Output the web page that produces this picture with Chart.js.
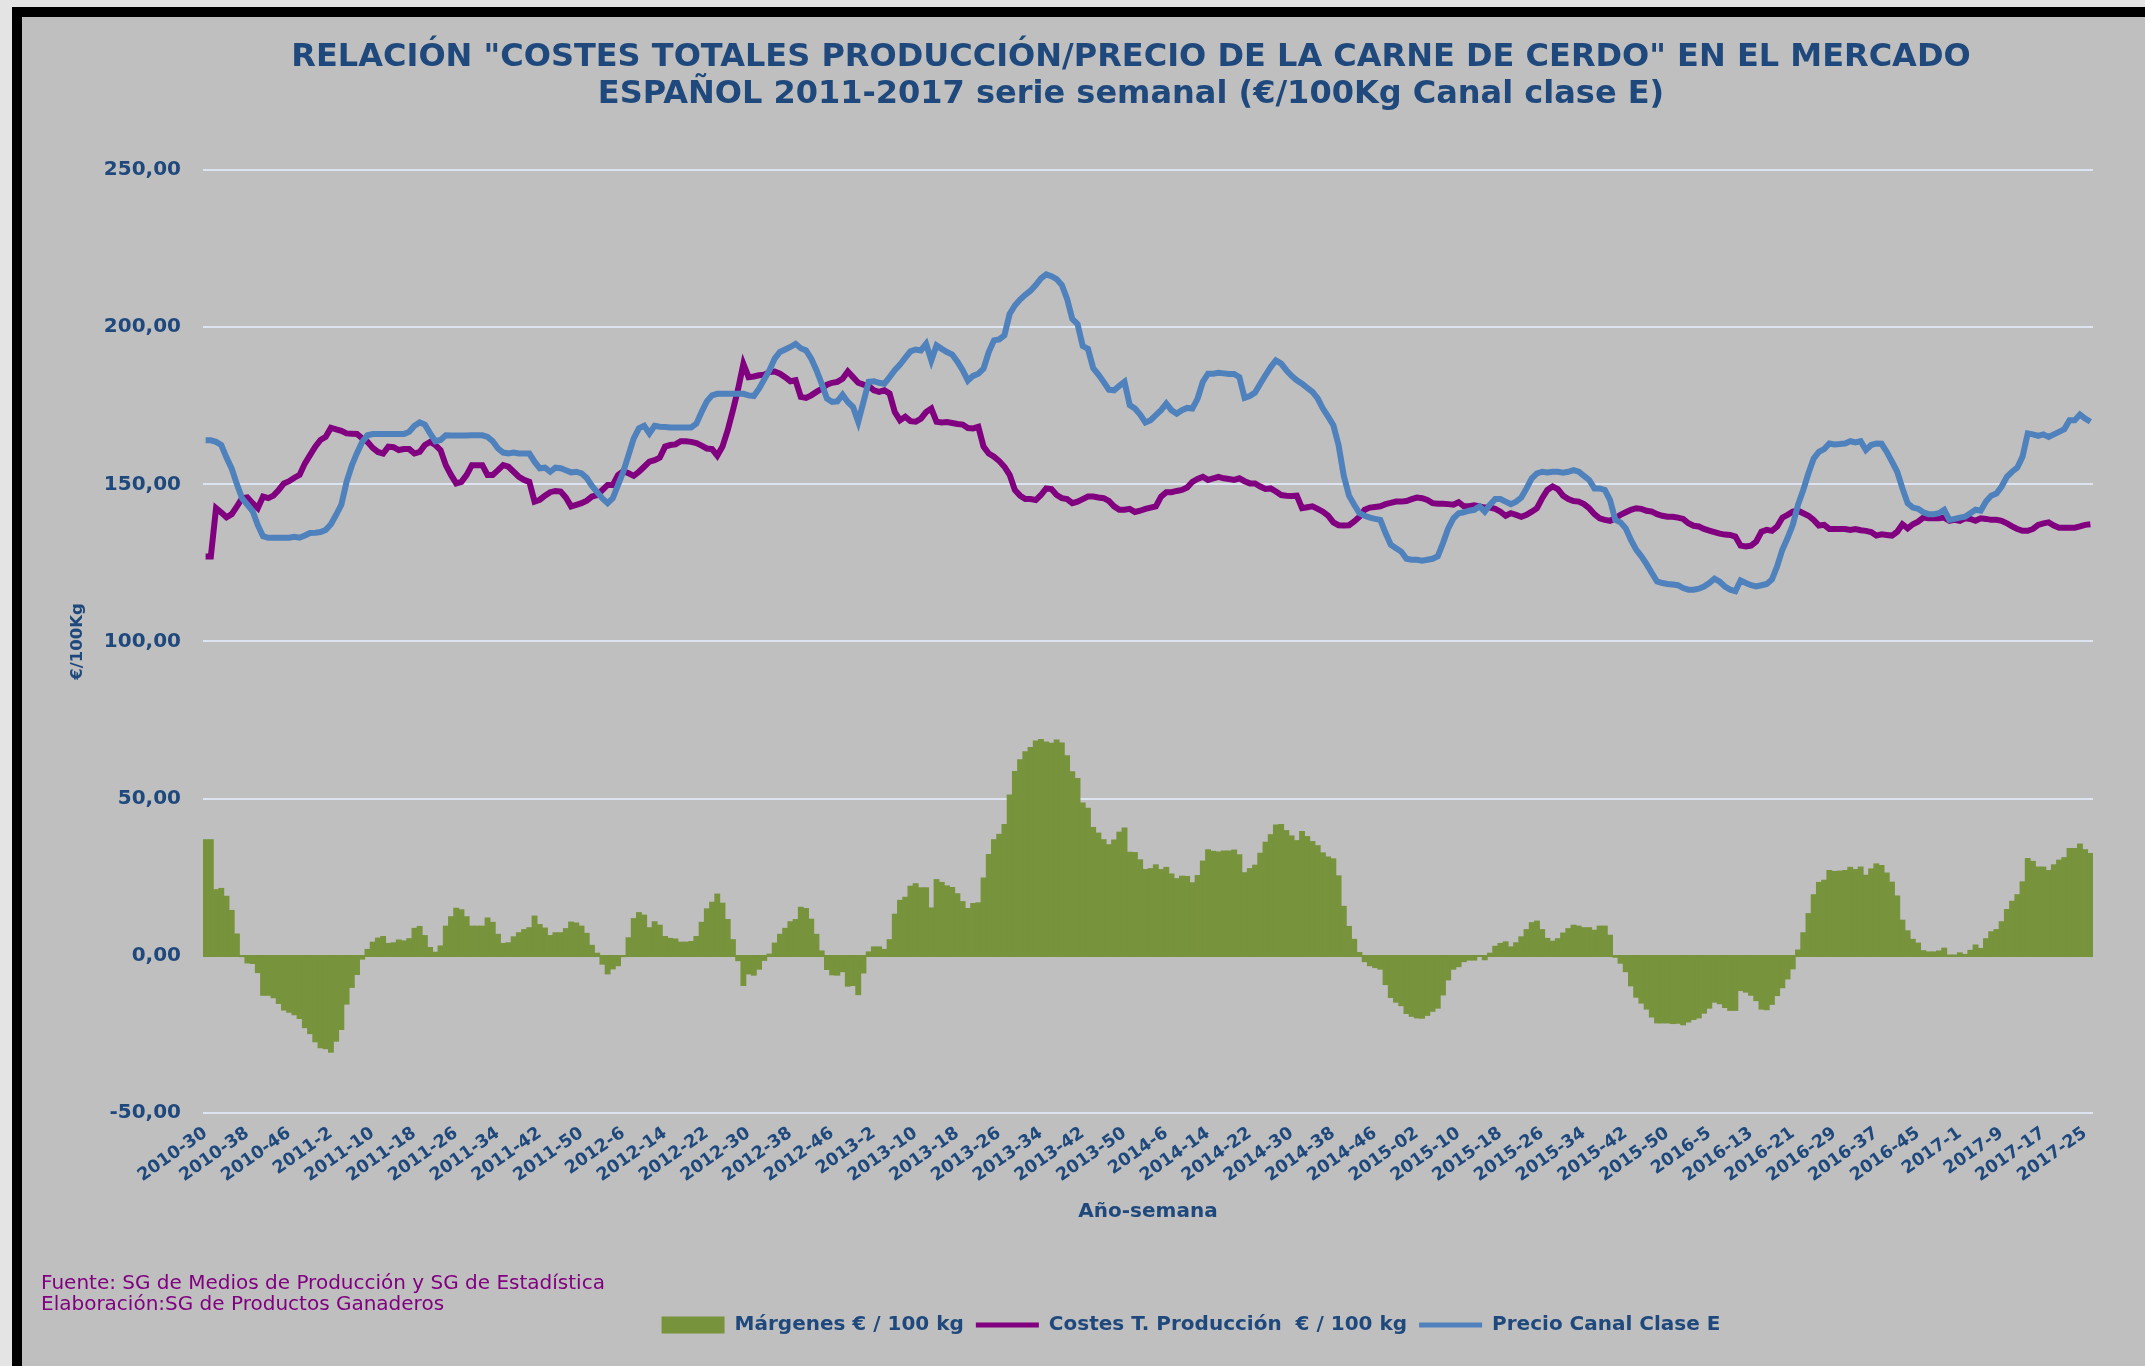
<!DOCTYPE html>
<html lang="es">
<head>
<meta charset="utf-8">
<title>Costes totales producción / precio carne de cerdo</title>
<script src="https://cdn.jsdelivr.net/npm/chart.js@4.4.1/dist/chart.umd.min.js"></script>
<style>
  html, body { margin: 0; padding: 0; }
  body { width: 2145px; height: 1366px; background: #e4e4e4; position: relative; overflow: hidden; font-family: 'DejaVu Sans', sans-serif; }
  #marco { position: absolute; left: 12px; top: 7px; width: 2200px; height: 1400px; background: #bfbfbf; border-left: 10px solid #000; border-top: 10px solid #000; }
  #grafico { position: absolute; left: 0; top: 0; }
  .nota { position: absolute; left: 41px; color: #800080; font-size: 20px; line-height: 22px; white-space: nowrap; }
</style>
</head>
<body>
<div id="marco"></div>
<canvas id="grafico" width="2145" height="1366"></canvas>
<div class="nota" style="top:1271px">Fuente: SG de Medios de Producción y SG de Estadística</div>
<div class="nota" style="top:1292px">Elaboración:SG de Productos Ganaderos</div>
<script>
// serie semanal desde 2010-30
const anios = [2010, 2011, 2012, 2013, 2014, 2015, 2016, 2017];
const semanasPorAnio = [52, 52, 52, 52, 52, 53, 52, 52];

// etiquetas que se ven en el eje (una cada 8 semanas)
const etiquetasEje = [
  '2010-30', '2010-38', '2010-46', '2011-2', '2011-10', '2011-18', '2011-26', '2011-34', '2011-42', '2011-50',
  '2012-6', '2012-14', '2012-22', '2012-30', '2012-38', '2012-46', '2013-2', '2013-10', '2013-18', '2013-26',
  '2013-34', '2013-42', '2013-50', '2014-6', '2014-14', '2014-22', '2014-30', '2014-38', '2014-46', '2015-02',
  '2015-10', '2015-18', '2015-26', '2015-34', '2015-42', '2015-50', '2016-5', '2016-13', '2016-21', '2016-29',
  '2016-37', '2016-45', '2017-1', '2017-9', '2017-17', '2017-25'
];

// Precio Canal Clase E (€/100 kg)
const precio = [
  164, 164, 163.5, 162.5, 158.5, 155, 150, 145.5, 143.5, 141.5,
  137, 133.5, 133, 133, 133, 133, 133, 133.3, 133, 133.7,
  134.5, 134.6, 134.8, 135.5, 137.3, 140.3, 143.5, 150.8, 156, 160,
  163.5, 165.6, 166, 166, 166, 166, 166, 166, 166, 166.7,
  168.6, 169.7, 169, 166.2, 163.7, 164.1, 165.6, 165.5, 165.5, 165.5,
  165.5, 165.6, 165.6, 165.6, 165.1, 163.7, 161.4, 160.1, 159.8, 160.1,
  159.8, 159.8, 159.8, 157.2, 155.1, 155.3, 154, 155.3, 155.1, 154.5,
  153.8, 154, 153.5, 152, 149.5, 147.5, 145.5, 144, 145.6, 149.8,
  154, 159.3, 164.6, 167.8, 168.6, 166.2, 168.6, 168.3, 168.2, 168.1,
  168.1, 168.1, 168.1, 168.1, 169.3, 173, 176.4, 178.3, 178.8, 178.8,
  178.8, 178.8, 178.8, 178.8, 178.3, 178.1, 180.4, 183.4, 186.3, 190,
  192.1, 192.9, 193.7, 194.7, 193.3, 192.6, 190, 186.3, 182, 177.3,
  176.2, 176.4, 178.5, 176.2, 174.6, 169.9, 176.2, 182.6, 182.8, 182.3,
  182, 184.1, 186.3, 188.1, 190.2, 192.3, 192.9, 192.6, 194.7, 189.4,
  194.2, 193.1, 192.1, 191.3, 189, 186.3, 183, 184.5, 185.2, 186.8,
  192.1, 195.8, 196.1, 197.4, 204.2, 206.9, 208.8, 210.3, 211.6, 213.4,
  215.5, 216.8, 216.2, 215.3, 213.4, 209, 202.6, 201, 194, 193.1,
  187, 184.9, 182.6, 180.1, 179.9, 181.3, 182.6, 175.2, 174.1, 172.2,
  169.7, 170.4, 172, 173.6, 175.7, 173.6, 172.5, 173.6, 174.3, 174.1,
  177.3, 182.6, 185.2, 185.2, 185.5, 185.3, 185.1, 185.1, 184.1, 177.5,
  178.1, 179.2, 182, 184.7, 187.3, 189.4, 188.4, 186.3, 184.5, 183.1,
  182, 180.7, 179.4, 177.3, 174.1, 171.5, 168.8, 162.5, 152.7, 146.4,
  143.5, 140.8, 140, 139.4, 139, 138.7, 134.5, 130.8, 129.7, 128.6,
  126.3, 126, 126, 125.7, 126, 126.3, 127.1, 131.3, 136, 139.2,
  140.8, 141.1, 141.6, 141.9, 143, 141.3, 143.5, 145.3, 145.3, 144.5,
  143.7, 144.5, 145.8, 148.7, 151.9, 153.5, 154, 153.8, 154, 154,
  153.7, 154, 154.5, 154, 152.7, 151.4, 148.7, 148.7, 148.2, 145,
  138.7, 137.9, 136, 132.3, 129.2, 127.1, 124.6, 121.8, 119.1, 118.6,
  118.3, 118.1, 117.9, 117, 116.5, 116.5, 116.8, 117.5, 118.6, 120,
  119, 117.5, 116.5, 116, 119.4, 118.6, 117.9, 117.5, 117.9, 118.3,
  119.7, 123.9, 129.2, 132.9, 137.1, 143.5, 148.2, 153.5, 158.2, 160.3,
  161.2, 163, 162.7, 162.8, 163, 163.7, 163.3, 163.7, 160.9, 162.5,
  163, 162.9, 160.3, 157.2, 154, 148.7, 144, 142.6, 142.2, 141.1,
  140.5, 140.5, 140.8, 141.9, 138.7, 139, 139.4, 139.7, 140.8, 141.9,
  141.6, 144.5, 146.4, 147.1, 149.3, 152.4, 154, 155.3, 158.8, 166.2,
  165.9, 165.4, 165.9, 165.1, 165.9, 166.7, 167.5, 170.4, 170.4, 172.2,
  170.9, 169.9
];

// Costes T. Producción (€/100 kg)
const costes = [
  127, 127, 142.4, 141, 139.5, 140.5, 143, 145.6, 145.8, 144,
  142.4, 146.1, 145.6, 146.4, 148.2, 150.3, 151, 152.1, 153, 156.6,
  159.3, 162, 164.1, 165.1, 168, 167.5, 167, 166.2, 166.1, 166,
  164.6, 163.5, 161.6, 160.3, 159.8, 162, 161.8, 160.9, 161.2, 161.2,
  159.8, 160.3, 162.5, 163.5, 162.5, 160.9, 156.1, 153, 150.3, 150.8,
  153, 156.1, 156.1, 156.1, 153, 153, 154.5, 156.1, 155.6, 154,
  152.4, 151.4, 150.8, 144.5, 145.1, 146.4, 147.5, 147.9, 147.7, 145.8,
  143, 143.5, 144, 144.8, 146.1, 146.6, 148.2, 149.8, 149.8, 153,
  154.2, 153.5, 152.7, 154, 155.6, 157.2, 157.7, 158.5, 162, 162.5,
  162.7, 163.7, 163.7, 163.5, 163.1, 162.3, 161.4, 161.2, 159.1, 162,
  167.2, 173.6, 180.4, 188.3, 184.1, 184.3, 184.7, 184.9, 185.7, 185.9,
  185.2, 184.1, 182.8, 183.1, 177.8, 177.5, 178.3, 179.4, 180.4, 181.7,
  182.3, 182.6, 183.6, 185.9, 184.1, 182.3, 181.7, 181.3, 179.9, 179.4,
  179.9, 178.9, 173, 170.4, 171.5, 170.1, 169.9, 170.9, 173, 174.1,
  169.9, 169.7, 169.8, 169.5, 169.2, 169, 167.9, 167.8, 168.3, 162,
  159.8, 158.8, 157.4, 155.6, 153, 148.2, 146.4, 145.3, 145.3, 145,
  146.6, 148.7, 148.5, 146.6, 145.6, 145.3, 144, 144.5, 145.3, 146.1,
  146.1, 145.8, 145.6, 144.7, 143, 141.9, 141.9, 142.2, 141.2, 141.6,
  142.2, 142.6, 143, 146.1, 147.5, 147.5, 147.9, 148.2, 149, 150.8,
  151.7, 152.4, 151.4, 151.9, 152.4, 151.9, 151.7, 151.4, 151.9, 151,
  150.3, 150.3, 149.3, 148.5, 148.7, 147.7, 146.6, 146.4, 146.3, 146.4,
  142.4, 142.7, 143, 142.2, 141.3, 140, 137.9, 137, 136.9, 137,
  138.2, 139.7, 141.9, 142.6, 142.8, 143, 143.7, 144.1, 144.5, 144.5,
  144.7, 145.3, 145.8, 145.6, 145, 144, 143.8, 143.8, 143.7, 143.5,
  144.3, 143, 143, 143.3, 143, 142.6, 142.6, 142.2, 141.3, 140,
  140.8, 140.3, 139.7, 140.3, 141.3, 142.4, 145.6, 148.2, 149.3, 148.5,
  146.4, 145.3, 144.7, 144.5, 143.7, 142.4, 140.5, 139.2, 138.7, 138.4,
  139.2, 140.3, 141.1, 141.9, 142.4, 142.2, 141.6, 141.3, 140.5, 140,
  139.7, 139.7, 139.4, 139, 137.6, 136.8, 136.6, 135.8, 135.3, 134.8,
  134.3, 134, 133.9, 133.4, 130.5, 130.2, 130.5, 131.8, 134.9, 135.5,
  135.2, 136.6, 139.4, 140.3, 141.3, 141.6, 140.8, 140, 138.7, 136.9,
  137.1, 135.8, 135.8, 135.8, 135.8, 135.5, 135.8, 135.4, 135.2, 134.8,
  133.7, 134.1, 133.9, 133.7, 134.9, 137.3, 136, 137.3, 138.1, 139.4,
  139.2, 139.2, 139.2, 139.4, 138.4, 138.7, 138.4, 139.2, 139, 138.4,
  139.2, 139, 138.7, 138.7, 138.4, 137.6, 136.6, 135.8, 135.2, 135.2,
  135.8, 137.1, 137.6, 137.9, 136.9, 136.2, 136.2, 136.2, 136.2, 136.6,
  137.1, 137.3
];

// Márgenes (€/100 kg)
const margenes = [
  37, 37, 21.1, 21.5, 19, 14.5, 7, -0.1, -2.3, -2.5,
  -5.4, -12.6, -12.6, -13.4, -15.2, -17.3, -18, -18.8, -20, -22.9,
  -24.8, -27.4, -29.3, -29.6, -30.7, -27.2, -23.5, -15.4, -10.1, -6,
  -1.1, 2.1, 4.4, 5.7, 6.2, 4, 4.2, 5.1, 4.8, 5.5,
  8.8, 9.4, 6.5, 2.7, 1.2, 3.2, 9.5, 12.5, 15.2, 14.7,
  12.5, 9.5, 9.5, 9.5, 12.1, 10.7, 6.9, 4, 4.2, 6.1,
  7.4, 8.4, 9, 12.7, 10, 8.9, 6.5, 7.4, 7.4, 8.7,
  10.8, 10.5, 9.5, 7.2, 3.4, 0.9, -2.7, -5.8, -4.2, -3.2,
  -0.2, 5.8, 11.9, 13.8, 13, 9, 10.9, 9.8, 6.2, 5.6,
  5.4, 4.4, 4.4, 4.6, 6.2, 10.7, 15, 17.1, 19.7, 16.8,
  11.6, 5.2, -1.6, -9.5, -5.8, -6.2, -4.3, -1.5, 0.6, 4.1,
  6.9, 8.8, 10.9, 11.6, 15.5, 15.1, 11.7, 6.9, 1.6, -4.4,
  -6.1, -6.2, -5.1, -9.7, -9.5, -12.4, -5.5, 1.3, 2.9, 2.9,
  2.1, 5.2, 13.3, 17.7, 18.7, 22.2, 23, 21.7, 21.7, 15.3,
  24.3, 23.4, 22.3, 21.8, 19.8, 17.3, 15.1, 16.7, 16.9, 24.8,
  32.3, 37, 38.7, 41.8, 51.2, 58.7, 62.4, 65, 66.3, 68.4,
  68.9, 68.1, 67.7, 68.7, 67.8, 63.7, 58.6, 56.5, 48.7, 47,
  40.9, 39.1, 37, 35.4, 36.9, 39.4, 40.7, 33, 32.9, 30.6,
  27.5, 27.8, 29, 27.5, 28.2, 26.1, 24.6, 25.4, 25.3, 23.3,
  25.6, 30.2, 33.8, 33.3, 33.1, 33.4, 33.4, 33.7, 32.2, 26.5,
  27.8, 28.9, 32.7, 36.2, 38.6, 41.7, 41.8, 39.9, 38.2, 36.7,
  39.6, 38, 36.4, 35.1, 32.8, 31.5, 30.9, 25.5, 15.8, 9.4,
  5.3, 1.1, -1.9, -3.2, -3.8, -4.3, -9.2, -13.3, -14.8, -15.9,
  -18.4, -19.3, -19.8, -19.9, -19, -17.7, -16.7, -12.5, -7.7, -4.3,
  -3.5, -1.9, -1.4, -1.4, 0, -1.3, 0.9, 3.1, 4, 4.5,
  2.9, 4.2, 6.1, 8.4, 10.6, 11.1, 8.4, 5.6, 4.7, 5.5,
  7.3, 8.7, 9.8, 9.5, 9, 9, 8.2, 9.5, 9.5, 6.6,
  -0.5, -2.4, -5.1, -9.6, -13.2, -15.1, -17, -19.5, -21.4, -21.4,
  -21.4, -21.6, -21.5, -22, -21.1, -20.3, -19.8, -18.3, -16.7, -14.8,
  -15.3, -16.5, -17.4, -17.4, -11.1, -11.6, -12.6, -14.3, -17, -17.2,
  -15.5, -12.7, -10.2, -7.4, -4.2, 1.9, 7.4, 13.5, 19.5, 23.4,
  24.1, 27.2, 26.9, 27, 27.2, 28.2, 27.5, 28.3, 25.7, 27.7,
  29.3, 28.8, 26.4, 23.5, 19.1, 11.4, 8, 5.3, 4.1, 1.7,
  1.3, 1.3, 1.6, 2.5, 0.3, 0.3, 1, 0.5, 1.8, 3.5,
  2.4, 5.5, 7.7, 8.4, 10.9, 14.8, 17.4, 19.5, 23.6, 31,
  30.1, 28.3, 28.3, 27.2, 29, 30.5, 31.3, 34.2, 34.2, 35.6,
  33.8, 32.6
];

// nombres de semana año-semana para cada punto
const semanas = [];
let a = 0, s = 30;
for (let i = 0; i < precio.length; i++) {
  semanas.push(anios[a] + '-' + s);
  s++;
  if (s > semanasPorAnio[a]) { s = 1; a++; }
}

const azul = '#1f497d';
Chart.defaults.font.family = "'DejaVu Sans', sans-serif";
Chart.defaults.color = azul;

// título y leyenda van algo a la derecha del centro, como en el original
const moverBloques = {
  id: 'moverBloques',
  afterLayout(chart) {
    const t = chart.titleBlock;
    const dt = 1131 - (t.left + t.right) / 2;
    t.left += dt;
    t.right += dt;
    const l = chart.legend;
    const dl = 1191 - (l.left + l.right) / 2;
    l.left += dl;
    l.right += dl;
  }
};

new Chart(document.getElementById('grafico'), {
  type: 'bar',
  data: {
    labels: semanas,
    datasets: [
      {
        type: 'bar',
        label: 'Márgenes € / 100 kg',
        data: margenes,
        backgroundColor: '#77933c',
        borderWidth: 0,
        barPercentage: 1,
        categoryPercentage: 1,
        order: 3
      },
      {
        type: 'line',
        label: 'Costes T. Producción  € / 100 kg',
        data: costes,
        borderColor: '#800080',
        backgroundColor: '#800080',
        borderWidth: 6,
        pointRadius: 0,
        tension: 0,
        order: 2
      },
      {
        type: 'line',
        label: 'Precio Canal Clase E',
        data: precio,
        borderColor: '#4f81bd',
        backgroundColor: '#4f81bd',
        borderWidth: 6,
        pointRadius: 0,
        tension: 0,
        order: 1
      }
    ]
  },
  options: {
    responsive: false,
    animation: false,
    devicePixelRatio: 1,
    layout: { padding: { left: 60, right: 52, top: 0, bottom: 21 } },
    plugins: {
      title: {
        display: true,
        text: ['RELACIÓN "COSTES TOTALES PRODUCCIÓN/PRECIO DE LA CARNE DE CERDO" EN EL MERCADO',
               'ESPAÑOL 2011-2017 serie semanal (€/100Kg Canal clase E)'],
        color: azul,
        font: { size: 32, weight: 'bold', lineHeight: 1.156 },
        padding: { top: 39, bottom: 57 }
      },
      legend: {
        position: 'bottom',
        labels: {
          usePointStyle: true,
          pointStyleWidth: 63,
          boxHeight: 17,
          padding: 12,
          color: azul,
          font: { size: 20, weight: 'bold' },
          generateLabels: (chart) => chart.data.datasets.map((ds, i) => ({
            text: ds.label,
            fillStyle: ds.type === 'bar' ? ds.backgroundColor : ds.borderColor,
            strokeStyle: ds.type === 'bar' ? ds.backgroundColor : ds.borderColor,
            lineWidth: ds.type === 'bar' ? 0 : 5,
            pointStyle: ds.type === 'bar' ? 'rect' : 'line',
            fontColor: azul,
            hidden: false,
            datasetIndex: i
          }))
        }
      },
      tooltip: { enabled: false }
    },
    scales: {
      x: {
        grid: { display: false },
        border: { display: false },
        ticks: {
          autoSkip: false,
          minRotation: 35,
          maxRotation: 35,
          padding: 2,
          color: azul,
          font: { size: 17.5, weight: 'bold' },
          callback: (v, i) => (i % 8 === 0 ? etiquetasEje[i / 8] : '')
        },
        title: {
          display: true,
          text: 'Año-semana',
          color: azul,
          font: { size: 20, weight: 'bold' },
          padding: { top: 0, bottom: 79 }
        },
        afterFit: (scale) => { scale.height = 190; }
      },
      y: {
        min: -50,
        max: 250,
        grid: {
          color: (c) => (c.tick && c.tick.value === 0 ? '#77933c' : '#dbe4f0'),
          lineWidth: 2,
          drawTicks: false
        },
        border: { display: false },
        ticks: {
          stepSize: 50,
          padding: 22,
          color: azul,
          font: { size: 20, weight: 'bold' },
          callback: (v) => v.toFixed(2).replace('.', ',')
        },
        title: {
          display: true,
          text: '€/100Kg',
          color: azul,
          font: { size: 16.5, weight: 'bold' },
          padding: { top: 8, bottom: 0 }
        },
        afterFit: (scale) => { scale.width = 143; }
      }
    }
  },
  plugins: [moverBloques]
});
</script>
</body>
</html>
